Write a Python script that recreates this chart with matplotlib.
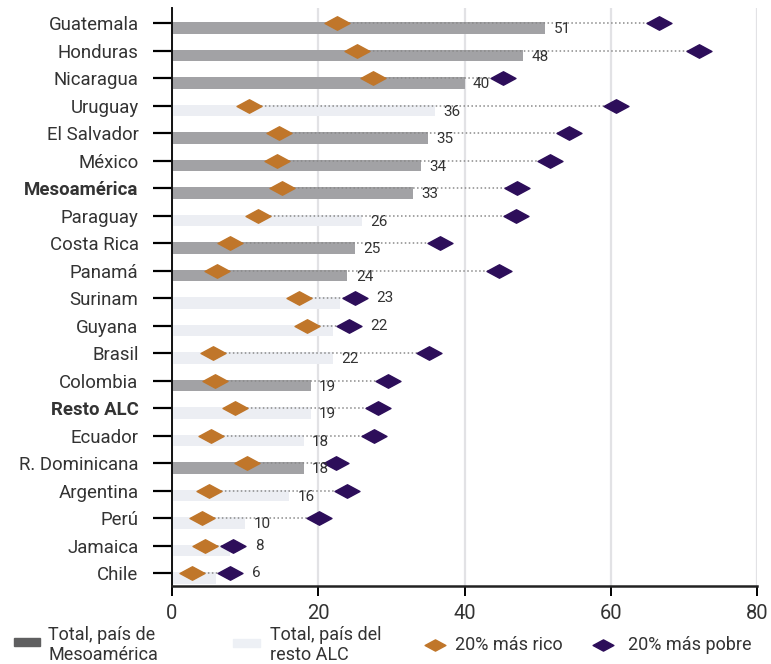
import matplotlib
matplotlib.use("Agg")
import matplotlib.pyplot as plt
from matplotlib.path import Path
from matplotlib.patches import Rectangle
from matplotlib.lines import Line2D

countries = ["Guatemala", "Honduras", "Nicaragua", "Uruguay", "El Salvador", "México",
             "Mesoamérica", "Paraguay", "Costa Rica", "Panamá", "Surinam", "Guyana",
             "Brasil", "Colombia", "Resto ALC", "Ecuador", "R. Dominicana", "Argentina",
             "Perú", "Jamaica", "Chile"]
total = [51, 48, 40, 36, 35, 34, 33, 26, 25, 24, 23, 22, 22, 19, 19, 18, 18, 16, 10, 8, 6]
is_meso = [1, 1, 1, 0, 1, 1, 1, 0, 1, 1, 0, 0, 0, 1, 0, 0, 1, 0, 0, 0, 0]
rich = [22.5, 25.3, 27.5, 10.6, 14.6, 14.3, 15.0, 11.7, 8.0, 6.2, 17.4, 18.4,
        5.6, 5.9, 8.6, 5.4, 10.3, 5.1, 4.1, 4.5, 2.7]
poor = [66.6, 72.1, 45.2, 60.7, 54.3, 51.7, 47.2, 47.0, 36.6, 44.7, 25.0, 24.2,
        35.1, 29.6, 28.2, 27.6, 22.4, 23.9, 20.1, 8.4, 8.0]
bold_rows = ["Mesoamérica", "Resto ALC"]
xticks = [0, 20, 40, 60, 80]

FONT = "Roboto"
plt.rcParams['font.family'] = [FONT, 'DejaVu Sans']

C_DARK = "#a2a2a5"
C_LIGHT = "#eceef3"
C_RICH = "#c0762a"
C_POOR = "#2d0e5a"
C_TEXT = "#333333"

diamond = Path([(-1, 0), (0, 0.54), (1, 0), (0, -0.54), (-1, 0)],
               [Path.MOVETO, Path.LINETO, Path.LINETO, Path.LINETO, Path.CLOSEPOLY])

fig = plt.figure(figsize=(7.71, 6.64), dpi=100)
ax = fig.add_axes([0.223, 0.1175, 0.982 - 0.223, 0.988 - 0.1175])

ys = list(range(len(countries)))
bar_off = 0.18
bar_h = 0.42
for y, t, m in zip(ys, total, is_meso):
    ax.barh(y + bar_off, t, height=bar_h, color=C_DARK if m else C_LIGHT, zorder=2)

for y, r, p in zip(ys, rich, poor):
    ax.plot([r, p], [y, y], color="#8a8a8a", lw=1.1, linestyle=(0, (1, 1.6)), zorder=3)
ax.plot(rich, ys, linestyle="none", marker=diamond, markersize=18, color=C_RICH, zorder=4)
ax.plot(poor, ys, linestyle="none", marker=diamond, markersize=18, color=C_POOR, zorder=4)

for y, t, p in zip(ys, total, poor):
    if abs(p - t) < 3.5:
        ax.annotate(str(t), xy=(p, y), xytext=(15.5, 0), textcoords="offset points",
                    ha="left", va="center", fontsize=11, color=C_TEXT, zorder=5)
    else:
        ax.annotate(str(t), xy=(t, y + bar_off), xytext=(6, -1), textcoords="offset points",
                    ha="left", va="center", fontsize=11, color=C_TEXT, zorder=5)

ax.set_xlim(0, 80)
ax.set_ylim(len(countries) - 1 + 0.47, -0.55)
ax.set_xticks(xticks)
ax.set_xticklabels([str(v) for v in xticks])
ax.set_yticks(ys)
ax.set_yticklabels(countries)
for lab in ax.get_yticklabels():
    if lab.get_text() in bold_rows:
        lab.set_fontweight("bold")

ax.grid(axis="x", color="#e2e2e5", lw=1.6, zorder=0)
ax.set_axisbelow(True)
for s in ["top", "right"]:
    ax.spines[s].set_visible(False)
ax.spines["left"].set_linewidth(1.4)
ax.spines["bottom"].set_linewidth(1.8)
ax.spines["left"].set_color("#111111")
ax.spines["bottom"].set_color("#222222")
ax.tick_params(axis="y", length=14, width=1.6, pad=10, labelsize=13.4, labelcolor=C_TEXT)
ax.tick_params(axis="x", length=7, width=1.4, pad=6, labelsize=14.5, labelcolor=C_TEXT)

# legend
W, H = 771.0, 664.0
def fx(px):
    return px / W
def fy(py):
    return 1 - py / H

fig.add_artist(Rectangle((fx(14), fy(646)), 26 / W, 8 / H, transform=fig.transFigure,
                         color="#5f5f60"))
fig.text(fx(48), fy(645), "Total, país de\nMesoamérica", ha="left", va="center",
         fontsize=13, color=C_TEXT, linespacing=1.15)
fig.add_artist(Rectangle((fx(233), fy(647)), 27 / W, 8 / H, transform=fig.transFigure,
                         color="#edf0f5"))
fig.text(fx(270), fy(645), "Total, país del\nresto ALC", ha="left", va="center",
         fontsize=13, color=C_TEXT, linespacing=1.15)
fig.add_artist(Line2D([fx(435)], [fy(645)], transform=fig.transFigure, marker=diamond,
                      markersize=15, color=C_RICH, linestyle="none"))
fig.text(fx(455), fy(645), "20% más rico", ha="left", va="center", fontsize=13, color=C_TEXT)
fig.add_artist(Line2D([fx(603)], [fy(645)], transform=fig.transFigure, marker=diamond,
                      markersize=15, color=C_POOR, linestyle="none"))
fig.text(fx(628), fy(645), "20% más pobre", ha="left", va="center", fontsize=13, color=C_TEXT)

fig.savefig("out.png", dpi=100)
